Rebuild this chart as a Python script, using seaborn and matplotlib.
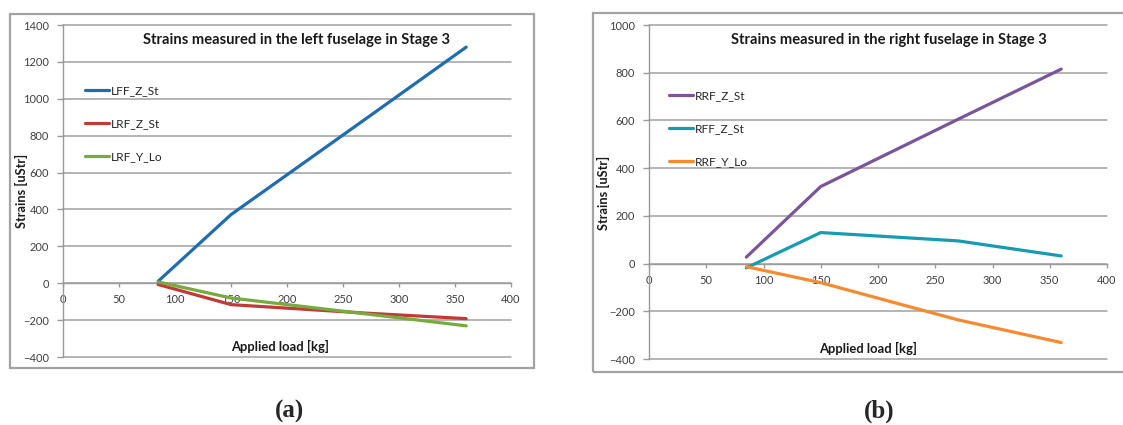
import numpy as np
import pandas as pd
import seaborn as sns
import matplotlib
matplotlib.use("Agg")
import matplotlib.pyplot as plt
from matplotlib.patches import Rectangle

# Applied load steps [kg]
load = [85, 150, 270, 360]

# Left fuselage strains [uStr]
lff_z_st = [11, 372, 890, 1280]
lrf_z_st = [-7, -116, -162, -192]
lrf_y_lo = [7, -80, -166, -231]

# Right fuselage strains [uStr]
rrf_z_st = [27, 323, 605, 815]
rff_z_st = [-18, 130, 95, 32]
rrf_y_lo = [-13, -80, -236, -331]

left_names = ["LFF_Z_St", "LRF_Z_St", "LRF_Y_Lo"]
right_names = ["RRF_Z_St", "RFF_Z_St", "RRF_Y_Lo"]
left_colors = ["#1f6db1", "#c23a36", "#77ab3d"]
right_colors = ["#7b559c", "#169cb2", "#f7892f"]

left_title = "Strains measured in the left fuselage in Stage 3"
right_title = "Strains measured in the right fuselage in Stage 3"
x_label = "Applied load [kg]"
y_label = "Strains [uStr]"

sns.set_theme(style="white")
plt.rcParams["font.family"] = ["Lato", "DejaVu Sans"]

W, H = 1123, 425
fig = plt.figure(figsize=(W / 100, H / 100), dpi=100)


def fx(px):
    return px / W


def fy(py):
    return 1 - py / H


def long_frame(names, series):
    rows = []
    for name, vals in zip(names, series):
        for x, y in zip(load, vals):
            rows.append({"load": x, "strain": y, "gauge": name})
    return pd.DataFrame(rows)


def panel(rect, frame, names, series, colors, ylim, title, title_px, xlab_px,
          ylab_px, leg_px, tag, tag_px):
    # outer chart frame
    fig.patches.append(Rectangle((fx(frame[0]), fy(frame[3])),
                                 fx(frame[2] - frame[0]), (frame[3] - frame[1]) / H,
                                 transform=fig.transFigure, fill=False,
                                 edgecolor="#a3a3a3", linewidth=1.6, zorder=0))
    l, t, r, b = rect
    ax = fig.add_axes([fx(l), fy(b), fx(r - l), (b - t) / H])
    df = long_frame(names, series)
    sns.lineplot(data=df, x="load", y="strain", hue="gauge", hue_order=names,
                 palette=colors, linewidth=2.3, ax=ax, zorder=3)
    ax.set_xlim(0, 400)
    ax.set_ylim(*ylim)
    ax.set_xticks(np.arange(0, 401, 50))
    ax.set_yticks(np.arange(ylim[0], ylim[1] + 1, 200))
    ax.yaxis.grid(True, color="#a0a0a0", linewidth=1.1, zorder=1)
    ax.xaxis.grid(False)
    for line in ax.get_ygridlines():
        line.set_clip_on(False)
    for s in ["top", "right"]:
        ax.spines[s].set_visible(False)
    ax.spines["left"].set_color("#9a9a9a")
    ax.spines["left"].set_linewidth(1.0)
    ax.spines["bottom"].set_position(("data", 0))
    ax.spines["bottom"].set_color("#9a9a9a")
    ax.spines["bottom"].set_linewidth(1.0)
    ax.tick_params(axis="y", direction="out", length=4, width=1.0,
                   color="#9a9a9a", pad=6, labelsize=8, labelcolor="#404040",
                   left=True)
    ax.tick_params(axis="x", direction="out", length=3, width=1.0,
                   color="#9a9a9a", pad=5, labelsize=8, labelcolor="#404040",
                   bottom=True)
    ax.set_xlabel("")
    ax.set_ylabel("")
    ax.set_facecolor("none")

    fig.text(fx(title_px[0]), fy(title_px[1]), title, ha="center", va="center",
             fontsize=10.6, fontweight="bold", color="#1a1a1a")
    fig.text(fx(xlab_px[0]), fy(xlab_px[1]), x_label, ha="center", va="center",
             fontsize=9.4, fontweight="bold", color="#1a1a1a")
    fig.text(fx(ylab_px[0]), fy(ylab_px[1]), y_label, ha="center", va="center",
             rotation=90, fontsize=9.2, fontweight="bold", color="#1a1a1a")

    handles, labels = ax.get_legend_handles_labels()
    leg = ax.legend(handles, labels, loc="upper left",
                    bbox_to_anchor=(fx(leg_px[0]), fy(leg_px[1])),
                    bbox_transform=fig.transFigure, frameon=False,
                    fontsize=8.6, handlelength=2.0, handletextpad=0.2,
                    labelspacing=1.85, borderaxespad=0, borderpad=0)
    for txt in leg.get_texts():
        txt.set_color("#262626")

    fig.text(fx(tag_px[0]), fy(tag_px[1]), tag, ha="center", va="center",
             fontsize=18, fontweight="bold", family="Liberation Serif")
    return ax


panel((63, 25, 511, 357), (10, 14, 534, 368), left_names,
      [lff_z_st, lrf_z_st, lrf_y_lo], left_colors, (-400, 1400),
      left_title, (297, 40), (280, 346), (21, 191), (85, 85),
      "(a)", (290, 411))

panel((649, 25, 1107, 359), (593, 13, 1130, 372), right_names,
      [rrf_z_st, rff_z_st, rrf_y_lo], right_colors, (-400, 1000),
      right_title, (889, 40), (868, 348), (603, 193), (669, 90),
      "(b)", (879, 411))

fig.savefig("out.png", dpi=100)
